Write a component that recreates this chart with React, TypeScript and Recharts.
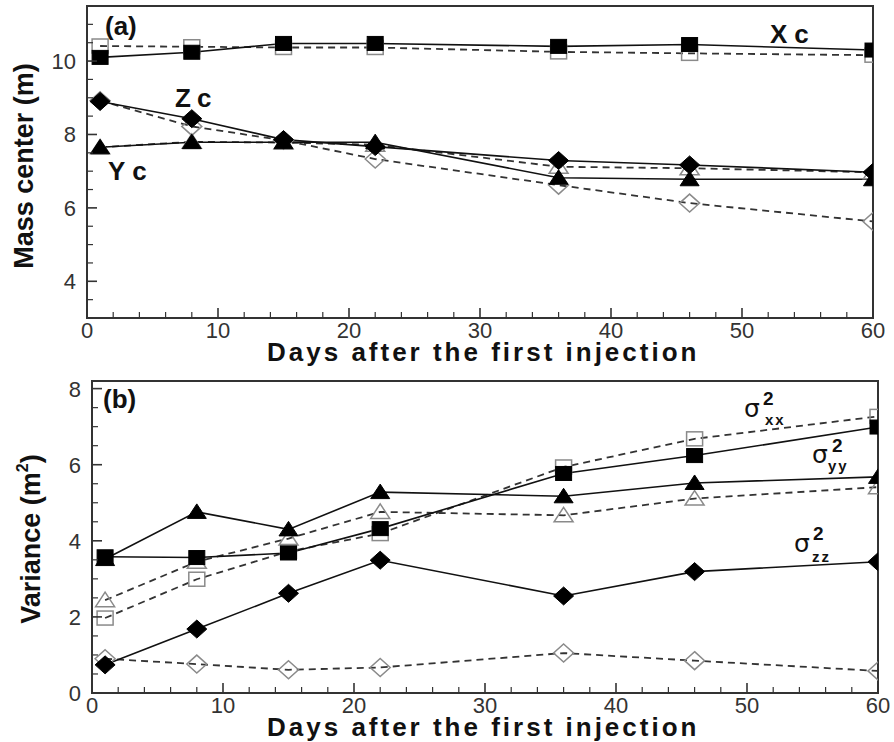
import React from 'react';
import { LineChart, Line, XAxis, YAxis, ReferenceArea } from 'recharts';

// ---------- data ----------
const days = [1, 8, 15, 22, 36, 46, 60];

// panel (a) mass center (m): solid = filled markers, dashed = open markers
const xcSolid = [10.1, 10.24, 10.48, 10.48, 10.4, 10.45, 10.3];
const xcDashed = [10.41, 10.39, 10.37, 10.37, 10.25, 10.21, 10.16];
const ycSolid = [7.65, 7.79, 7.79, 7.79, 6.82, 6.78, 6.78];
const ycDashed = [7.65, 7.8, 7.78, 7.72, 7.12, 7.08, 6.97];
const zcSolid = [8.9, 8.43, 7.86, 7.67, 7.29, 7.17, 6.97];
const zcDashed = [8.92, 8.22, 7.84, 7.33, 6.62, 6.13, 5.63];

// panel (b) variance (m^2)
const sxxSolid = [3.58, 3.56, 3.68, 4.32, 5.77, 6.24, 6.99];
const sxxDashed = [1.97, 2.99, 3.72, 4.19, 5.94, 6.68, 7.27];
const syySolid = [3.52, 4.76, 4.3, 5.28, 5.17, 5.52, 5.68];
const syyDashed = [2.44, 3.45, 4.06, 4.76, 4.67, 5.11, 5.41];
const szzSolid = [0.74, 1.68, 2.62, 3.49, 2.55, 3.19, 3.45];
const szzDashed = [0.9, 0.76, 0.61, 0.67, 1.05, 0.85, 0.58];

// ticks (all tick marks; labelled ones listed separately)
const xTicks = [0, 2, 4, 6, 8, 10, 12, 14, 16, 18, 20, 22, 24, 26, 28, 30, 32, 34, 36, 38, 40, 42, 44, 46, 48, 50, 52, 54, 56, 58, 60];
const xLabelled = [0, 10, 20, 30, 40, 50, 60];
const yTicksA = [3, 3.5, 4, 4.5, 5, 5.5, 6, 6.5, 7, 7.5, 8, 8.5, 9, 9.5, 10, 10.5, 11, 11.5];
const yLabelledA = [4, 6, 8, 10];
const yTicksB = [0, 0.5, 1, 1.5, 2, 2.5, 3, 3.5, 4, 4.5, 5, 5.5, 6, 6.5, 7, 7.5, 8];
const yLabelledB = [0, 2, 4, 6, 8];

const rowsA = days.map((d, i) => ({
  day: d,
  xcSolid: xcSolid[i], xcDashed: xcDashed[i],
  ycSolid: ycSolid[i], ycDashed: ycDashed[i],
  zcSolid: zcSolid[i], zcDashed: zcDashed[i],
}));
const rowsB = days.map((d, i) => ({
  day: d,
  sxxSolid: sxxSolid[i], sxxDashed: sxxDashed[i],
  syySolid: syySolid[i], syyDashed: syyDashed[i],
  szzSolid: szzSolid[i], szzDashed: szzDashed[i],
}));

// ---------- styling ----------
const FONT = '"Liberation Sans", Arial, sans-serif';
const AXIS = '#333';
const OPEN = '#8a8a8a';

type Kind = 'square' | 'diamond' | 'triangle';

function makeDot(kind: Kind, filled: boolean, id: string) {
  return (p: any) => {
    const { cx, cy, index } = p;
    const key = `${id}-${index}`;
    if (cx == null || cy == null) return <g key={key} />;
    const fill = filled ? '#000' : 'none';
    const stroke = filled ? '#000' : OPEN;
    const sw = filled ? 1 : 1.5;
    if (kind === 'square') {
      return <rect key={key} x={cx - 8} y={cy - 7} width={16} height={14} fill={fill} stroke={stroke} strokeWidth={sw} />;
    }
    if (kind === 'diamond') {
      const pts = `${cx},${cy - 9} ${cx + 10},${cy} ${cx},${cy + 9} ${cx - 10},${cy}`;
      return <polygon key={key} points={pts} fill={fill} stroke={stroke} strokeWidth={sw} />;
    }
    const pts = `${cx},${cy - 8} ${cx + 9.5},${cy + 6.5} ${cx - 9.5},${cy + 6.5}`;
    return <polygon key={key} points={pts} fill={fill} stroke={stroke} strokeWidth={sw} />;
  };
}

function series(dataKey: string, kind: Kind, solid: boolean) {
  return (
    <Line
      key={dataKey}
      type="linear"
      dataKey={dataKey}
      stroke={solid ? '#111' : '#333'}
      strokeWidth={solid ? 1.6 : 1.8}
      strokeDasharray={solid ? undefined : '7 5'}
      dot={makeDot(kind, solid, dataKey)}
      activeDot={false}
      isAnimationActive={false}
    />
  );
}

// inward tick marks with labels on the outside
function makeYTick(labelled: number[]) {
  return (p: any) => {
    const { x, y, payload } = p;
    const v = payload.value;
    const major = labelled.includes(v);
    return (
      <g key={`yt-${v}`}>
        <line x1={x} y1={y} x2={x + (major ? 10 : 6)} y2={y} stroke={AXIS} strokeWidth={major ? 1.6 : 1.2} />
        {major && (
          <text x={x - 11} y={y + 8} textAnchor="end" fontSize={22} fill="#333" fontFamily={FONT}>{v}</text>
        )}
      </g>
    );
  };
}
function makeXTick(labelled: number[], dy: number) {
  return (p: any) => {
    const { x, y, payload } = p;
    const v = payload.value;
    const major = labelled.includes(v);
    return (
      <g key={`xt-${v}`}>
        <line x1={x} y1={y} x2={x} y2={y - (major ? 10 : 6)} stroke={AXIS} strokeWidth={major ? 1.6 : 1.2} />
        {major && (
          <text x={x} y={y + dy} textAnchor="middle" fontSize={22} fill="#333" fontFamily={FONT}>{v}</text>
        )}
      </g>
    );
  };
}

export default function App() {
  const domA: [number, number] = [3, 11.5];
  const domB: [number, number] = [0, 8.2];

  return (
    <div style={{ position: 'absolute', left: 0, top: 0, width: 894, height: 742, background: '#fff', fontFamily: FONT }}>
      <div style={{ position: 'absolute', left: 0, top: 0 }}>
        <LineChart width={894} height={370} data={rowsA} margin={{ top: 6, right: 21, bottom: 51, left: 86 }}>
          <XAxis dataKey="day" type="number" domain={[0, 60]} ticks={xTicks} interval={0} allowDataOverflow
            height={1} axisLine={false} tickLine={false} tickSize={0} tickMargin={0} tick={makeXTick(xLabelled, 20)} />
          <YAxis type="number" domain={domA} ticks={yTicksA} interval={0} allowDataOverflow
            width={1} axisLine={false} tickLine={false} tickSize={0} tickMargin={0} tick={makeYTick(yLabelledA)} />
          <ReferenceArea x1={0} x2={60} y1={domA[0]} y2={domA[1]} fill="none" stroke={AXIS} strokeWidth={2} ifOverflow="visible" />
          {series('xcDashed', 'square', false)}
          {series('zcDashed', 'diamond', false)}
          {series('ycDashed', 'triangle', false)}
          {series('xcSolid', 'square', true)}
          {series('ycSolid', 'triangle', true)}
          {series('zcSolid', 'diamond', true)}
        </LineChart>
      </div>
      <div style={{ position: 'absolute', left: 0, top: 370 }}>
        <LineChart width={894} height={372} data={rowsB} margin={{ top: 11, right: 16, bottom: 48, left: 91 }}>
          <XAxis dataKey="day" type="number" domain={[0, 60]} ticks={xTicks} interval={0} allowDataOverflow
            height={1} axisLine={false} tickLine={false} tickSize={0} tickMargin={0} tick={makeXTick(xLabelled, 20)} />
          <YAxis type="number" domain={domB} ticks={yTicksB} interval={0} allowDataOverflow
            width={1} axisLine={false} tickLine={false} tickSize={0} tickMargin={0} tick={makeYTick(yLabelledB)} />
          <ReferenceArea x1={0} x2={60} y1={domB[0]} y2={domB[1]} fill="none" stroke={AXIS} strokeWidth={2} ifOverflow="visible" />
          {series('szzDashed', 'diamond', false)}
          {series('syyDashed', 'triangle', false)}
          {series('sxxDashed', 'square', false)}
          {series('szzSolid', 'diamond', true)}
          {series('syySolid', 'triangle', true)}
          {series('sxxSolid', 'square', true)}
        </LineChart>
      </div>
      <svg width={894} height={742} style={{ position: 'absolute', left: 0, top: 0, pointerEvents: 'none' }}>
        <g fontFamily={FONT} fill="#111" fontWeight="bold">
          {/* axis titles */}
          <text x={33} y={166} fontSize={27} textAnchor="middle" transform="rotate(-90 33 166)">Mass center (m)</text>
          <text x={40} y={539} fontSize={27} textAnchor="middle" transform="rotate(-90 40 539)">
            Variance (m<tspan fontSize={16} dy={-12}>2</tspan><tspan dy={12}>)</tspan>
          </text>
          <text x={267} y={361} fontSize={26} letterSpacing={3}>Days after the first injection</text>
          <text x={267} y={736} fontSize={26} letterSpacing={3}>Days after the first injection</text>
          {/* panel labels */}
          <text x={105} y={35} fontSize={26}>(a)</text>
          <text x={103} y={408} fontSize={26}>(b)</text>
          <text x={770} y={43} fontSize={26} letterSpacing={7}>Xc</text>
          <text x={175} y={107} fontSize={26} letterSpacing={6}>Zc</text>
          <text x={108} y={180} fontSize={26} letterSpacing={7}>Yc</text>
          {/* sigma labels */}
          <text x={744} y={417} fontSize={25} fontWeight="normal" fontFamily='"DejaVu Sans", sans-serif'>σ</text>
          <text x={763} y={405} fontSize={19}>2</text>
          <text x={765} y={425} fontSize={15} letterSpacing={2}>xx</text>
          <text x={812} y={463} fontSize={25} fontWeight="normal" fontFamily='"DejaVu Sans", sans-serif'>σ</text>
          <text x={832} y={452} fontSize={19}>2</text>
          <text x={828} y={471} fontSize={15} letterSpacing={2}>yy</text>
          <text x={794} y={552} fontSize={25} fontWeight="normal" fontFamily='"DejaVu Sans", sans-serif'>σ</text>
          <text x={813} y={540} fontSize={19}>2</text>
          <text x={812} y={562} fontSize={15} letterSpacing={2}>zz</text>
        </g>
      </svg>
    </div>
  );
}
